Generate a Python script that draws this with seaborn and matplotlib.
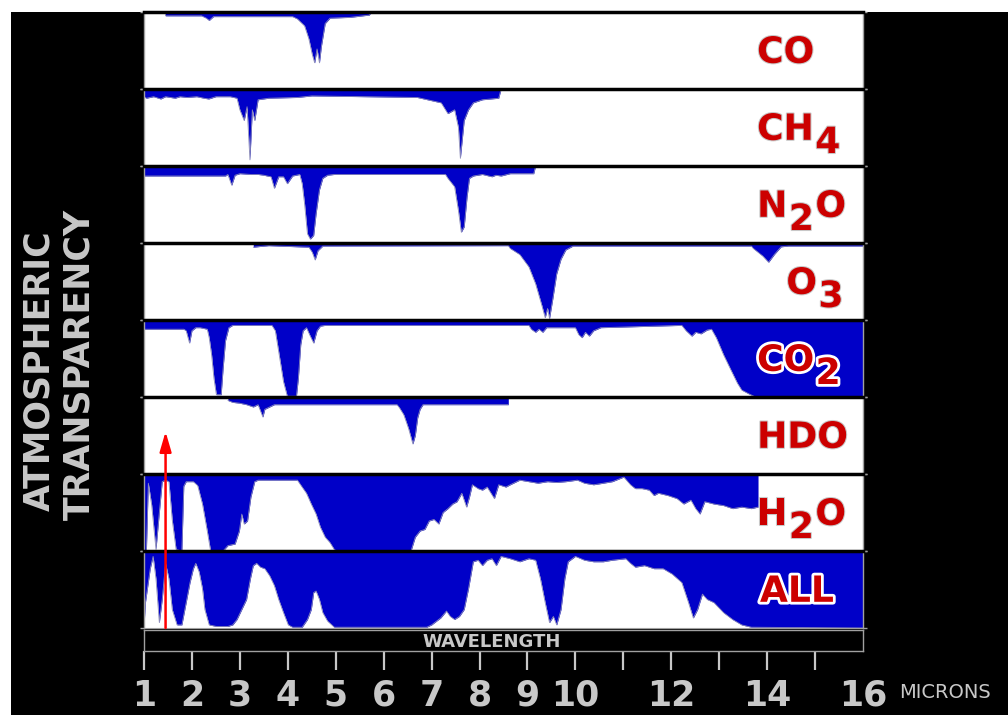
import matplotlib
matplotlib.use("Agg")
import matplotlib.pyplot as plt
import matplotlib.patheffects as pe
from matplotlib.patches import Rectangle
import seaborn as sns

sns.set_style("white")
plt.rcParams['font.family'] = ['DejaVu Sans']

# wavelength (microns) / transmission
co_wl = [1.44, 1.45, 2.20, 2.30, 2.36, 2.45, 4.10, 4.20, 4.35, 4.44, 4.51, 4.56, 4.61, 4.66, 4.70, 4.78, 4.88, 5.30, 5.70, 5.74]
co_tr = [1.00, 0.95, 0.95, 0.92, 0.89, 0.94, 0.94, 0.91, 0.82, 0.65, 0.45, 0.34, 0.52, 0.34, 0.55, 0.85, 0.92, 0.93, 0.96, 1.00]

ch4_wl = [1.00, 1.05, 1.20, 1.35, 1.45, 1.65, 1.75, 1.90, 2.10, 2.25, 2.35, 2.50, 2.80, 2.94, 3.00, 3.09, 3.15, 3.21, 3.26, 3.31, 3.38,
          3.60, 4.20, 4.50, 6.70, 7.20, 7.34, 7.48, 7.56, 7.60, 7.68, 7.77, 7.87, 8.06, 8.40, 8.45]
ch4_tr = [0.90, 0.88, 0.90, 0.87, 0.90, 0.88, 0.90, 0.89, 0.90, 0.88, 0.87, 0.90, 0.90, 0.88, 0.73, 0.59, 0.77, 0.08, 0.73, 0.59, 0.86,
          0.88, 0.89, 0.91, 0.89, 0.82, 0.68, 0.73, 0.50, 0.10, 0.59, 0.73, 0.82, 0.86, 0.88, 1.00]

n2o_wl = [1.00, 2.70, 2.75, 2.83, 2.90, 3.00, 3.23, 3.38, 3.50, 3.57, 3.65, 3.72, 3.81, 3.91, 3.99, 4.10, 4.25, 4.30, 4.35, 4.41,
          4.47, 4.54, 4.59, 4.66, 4.73, 4.83, 4.97, 7.29, 7.34, 7.48, 7.56, 7.62, 7.68, 7.74, 7.79, 7.87, 8.06, 8.26, 8.34, 8.45,
          8.64, 9.13, 9.17]
n2o_tr = [0.87, 0.87, 0.89, 0.75, 0.88, 0.90, 0.89, 0.89, 0.88, 0.87, 0.86, 0.71, 0.86, 0.86, 0.77, 0.87, 0.89, 0.77, 0.51, 0.12,
          0.05, 0.10, 0.38, 0.69, 0.84, 0.88, 0.89, 0.89, 0.84, 0.73, 0.42, 0.14, 0.21, 0.60, 0.84, 0.87, 0.89, 0.86, 0.88, 0.87,
          0.90, 0.90, 1.00]

o3_wl = [3.28, 3.43, 3.60, 4.44, 4.51, 4.57, 4.63, 4.73, 8.60, 8.64, 8.84, 9.03, 9.17, 9.30, 9.37, 9.42, 9.46, 9.53, 9.61, 9.70,
         9.80, 9.95, 13.67, 13.71, 13.91, 14.03, 14.15, 14.29, 14.44, 16.00]
o3_tr = [0.945, 0.955, 0.965, 0.945, 0.88, 0.78, 0.90, 0.96, 0.965, 0.93, 0.85, 0.69, 0.47, 0.19, 0.03, 0.15, 0.02, 0.28, 0.60, 0.79,
         0.91, 0.96, 0.96, 0.93, 0.83, 0.75, 0.85, 0.95, 0.96, 0.96]

co2_wl = [1.00, 1.83, 1.88, 1.95, 2.00, 2.08, 2.17, 2.32, 2.36, 2.41, 2.46, 2.51, 2.61, 2.65, 2.70, 2.77, 2.85, 3.67, 3.74, 3.81,
          3.91, 3.99, 4.18, 4.22, 4.27, 4.32, 4.39, 4.47, 4.54, 4.61, 4.68, 4.78, 9.03, 9.08, 9.17, 9.24, 9.32, 9.40, 10.00, 10.07,
          10.14, 10.21, 10.29, 10.38, 10.53, 12.22, 12.31, 12.43, 12.51, 12.62, 12.75, 12.84, 12.94, 13.09, 13.23, 13.38, 13.47,
          13.62, 13.76, 16.00]
co2_tr = [0.88, 0.88, 0.86, 0.70, 0.86, 0.90, 0.90, 0.88, 0.77, 0.55, 0.24, 0.03, 0.03, 0.37, 0.73, 0.90, 0.93, 0.93, 0.86, 0.59,
          0.20, 0.01, 0.01, 0.24, 0.68, 0.86, 0.90, 0.79, 0.70, 0.86, 0.92, 0.93, 0.93, 0.88, 0.84, 0.88, 0.84, 0.90, 0.90, 0.81,
          0.77, 0.84, 0.79, 0.86, 0.90, 0.93, 0.86, 0.79, 0.84, 0.82, 0.87, 0.88, 0.77, 0.55, 0.37, 0.18, 0.09,
          0.04, 0.00, 0.00]

hdo_wl = [2.75, 2.85, 2.99, 3.14, 3.28, 3.38, 3.48, 3.52, 3.62, 3.72, 6.28, 6.33, 6.42, 6.52, 6.61, 6.66, 6.71, 6.76, 6.82, 8.60]
hdo_tr = [0.955, 0.93, 0.92, 0.90, 0.87, 0.90, 0.74, 0.84, 0.87, 0.90, 0.90, 0.86, 0.77, 0.59, 0.39, 0.50, 0.73, 0.84, 0.90, 0.90]

h2o_wl = [1.00, 1.05, 1.09, 1.16, 1.25, 1.32, 1.38, 1.45, 1.52, 1.59, 1.67, 1.79, 1.83, 1.88, 2.03, 2.12, 2.22, 2.32, 2.39, 2.65,
          2.75, 2.90, 2.99, 3.04, 3.09, 3.16, 3.23, 3.31, 3.38, 4.20, 4.30, 4.39, 4.49, 4.59, 4.68, 4.78, 4.88, 4.97, 5.02, 6.57,
          6.66, 6.76, 6.86, 6.95, 7.05, 7.15, 7.24, 7.34, 7.44, 7.53, 7.63, 7.73, 7.79, 7.85, 7.97, 8.06, 8.16, 8.31, 8.40, 8.55,
          8.64, 8.84, 9.03, 9.22, 9.42, 9.61, 9.80, 10.04, 10.19, 10.38, 10.58, 10.77, 11.01, 11.15, 11.25, 11.39, 11.54, 11.64,
          11.73, 11.93, 12.12, 12.26, 12.41, 12.51, 12.60, 12.70, 12.89, 13.09, 13.28, 13.47, 13.67, 13.81]
h2o_tr = [0.00, 0.00, 0.88, 0.60, 0.02, 0.50, 0.90, 0.92, 0.90, 0.40, 0.02, 0.00, 0.84, 0.90, 0.90, 0.85, 0.61, 0.26, 0.00, 0.00,
          0.07, 0.09, 0.26, 0.48, 0.35, 0.39, 0.70, 0.90, 0.92, 0.92, 0.83, 0.75, 0.61, 0.48, 0.31, 0.18, 0.11, 0.02, 0.00, 0.00,
          0.18, 0.26, 0.28, 0.39, 0.41, 0.35, 0.50, 0.55, 0.61, 0.64, 0.75, 0.57, 0.70, 0.86, 0.81, 0.79, 0.83, 0.68, 0.86, 0.83,
          0.86, 0.92, 0.90, 0.88, 0.90, 0.89, 0.90, 0.92, 0.88, 0.86, 0.88, 0.90, 0.96, 0.86, 0.81, 0.81, 0.79, 0.72,
          0.75, 0.72, 0.68, 0.61, 0.66, 0.55, 0.48, 0.64, 0.61, 0.59, 0.55, 0.57, 0.55, 0.57]

all_wl = [1.00, 1.03, 1.13, 1.19, 1.25, 1.32, 1.38, 1.45, 1.52, 1.59, 1.69, 1.79, 1.88, 1.96, 2.03, 2.08, 2.15, 2.22, 2.27, 2.36,
          2.51, 2.75, 2.85, 2.94, 3.04, 3.14, 3.22, 3.28, 3.35, 3.43, 3.52, 3.62, 3.72, 3.81, 3.91, 4.01, 4.10, 4.30, 4.41, 4.49,
          4.54, 4.59, 4.66, 4.73, 4.83, 4.97, 5.94, 6.90, 7.00, 7.19, 7.31, 7.39, 7.48, 7.58, 7.68, 7.77, 7.87, 7.97, 8.06, 8.16,
          8.26, 8.35, 8.45, 8.64, 8.84, 9.03, 9.17, 9.27, 9.37, 9.46, 9.54, 9.61, 9.70, 9.78, 9.85, 10.00, 10.19, 10.38, 10.58,
          10.77, 11.05, 11.15, 11.25, 11.44, 11.64, 11.83, 12.02, 12.22, 12.36, 12.46, 12.55, 12.65, 12.75, 12.89, 13.09, 13.28,
          13.47, 13.67, 16.00]
all_tr = [0.02, 0.33, 0.77, 0.93, 0.64, 0.07, 0.37, 0.84, 0.64, 0.24, 0.04, 0.04, 0.33, 0.59, 0.77, 0.84, 0.73, 0.51, 0.24, 0.04,
          0.02, 0.02, 0.04, 0.11, 0.24, 0.37, 0.64, 0.81, 0.84, 0.79, 0.77, 0.68, 0.55, 0.37, 0.20, 0.04, 0.01, 0.01, 0.11, 0.24,
          0.46, 0.48, 0.37, 0.20, 0.09, 0.01, 0.01, 0.01, 0.04, 0.13, 0.22, 0.15, 0.11, 0.15, 0.24, 0.51, 0.86, 0.88, 0.81, 0.88,
          0.90, 0.81, 0.93, 0.90, 0.86, 0.90, 0.88, 0.64, 0.33, 0.07, 0.15, 0.04, 0.24, 0.64, 0.86, 0.93, 0.88, 0.86, 0.86,
          0.88, 0.90, 0.84, 0.79, 0.81, 0.77, 0.77, 0.70, 0.59, 0.33, 0.13, 0.24, 0.44, 0.37, 0.33, 0.20, 0.11,
          0.04, 0.01, 0.00]

panel_data = [(co_wl, co_tr), (ch4_wl, ch4_tr), (n2o_wl, n2o_tr), (o3_wl, o3_tr),
              (co2_wl, co2_tr), (hdo_wl, hdo_tr), (h2o_wl, h2o_tr), (all_wl, all_tr)]

# panel names: (text, lowered?) pieces
panel_labels = [[("CO", 0)], [("CH", 0), ("4", 1)], [("N", 0), ("2", 1), ("O", 0)], [("O", 0), ("3", 1)],
                [("CO", 0), ("2", 1)], [("HDO", 0)], [("H", 0), ("2", 1), ("O", 0)], [("ALL", 0)]]
label_x = [13.79, 13.79, 13.79, 14.40, 13.79, 13.79, 13.79, 13.85]
on_blue = [False, False, False, False, True, False, False, True]

tick_pos = list(range(1, 17))
tick_text = ["1", "2", "3", "4", "5", "6", "7", "8", "9", "10", "", "12", "", "14", "", "16"]
arrow_wl = 1.45

BLUE = "#0000c8"
RED = "#cc0000"
GREY = "#c8c8c8"

W, H = 1008, 715
fig = plt.figure(figsize=(W / 100, H / 100), dpi=100, facecolor="white")
fig.patches.append(Rectangle((11 / W, 0), 1, (H - 12) / H, transform=fig.transFigure,
                             facecolor="black", edgecolor="none", zorder=-5))

left, width = 144 / W, (863 - 144) / W
ph = 77
axes = []
for i, (wl, tr) in enumerate(panel_data):
    top_px = 12 + ph * i
    ax = fig.add_axes([left, 1 - (top_px + ph) / H, width, ph / H])
    ax.set_facecolor("white")
    ax.fill_between(wl, tr, 1, color=BLUE, linewidth=0)
    sns.lineplot(x=wl, y=tr, ax=ax, color="#8a8ab8", linewidth=0.6, estimator=None, sort=False)
    ax.set_xlim(1, 16)
    ax.set_ylim(0, 1)
    ax.set_xlabel("")
    ax.set_ylabel("")
    ax.set_xticks([])
    ax.set_yticks([0, 1])
    ax.set_yticklabels([])
    ax.tick_params(axis="y", left=True, right=True, length=3, width=1, color="#a0a0a0", direction="out")
    for s in ["left", "right"]:
        ax.spines[s].set_color("#a0a0a0")
        ax.spines[s].set_linewidth(1)
    ax.spines["top"].set_color("black")
    ax.spines["top"].set_linewidth(2.5)
    ax.spines["bottom"].set_visible(i == 7)
    ax.spines["bottom"].set_color("#a0a0a0")

    stroke = [pe.withStroke(linewidth=4, foreground="white")] if on_blue[i] else \
             [pe.withStroke(linewidth=1.5, foreground="#c8c8c8")]
    prev, prev_low = None, 0
    for txt, low in panel_labels[i]:
        if prev is None:
            t = ax.text(label_x[i], 0.47 - 0.17 * low, txt, fontsize=26, fontweight="bold", color=RED,
                        ha="left", va="center", path_effects=stroke)
        else:
            t = ax.annotate(txt, xy=(1, 0.5), xycoords=prev, xytext=(1, -9.5 * (low - prev_low)),
                            textcoords="offset points", fontsize=26, fontweight="bold", color=RED,
                            ha="left", va="center", path_effects=stroke)
        prev, prev_low = t, low
    axes.append(ax)

# red arrow through the lower panels
axes[-1].annotate("", xy=(arrow_wl, 2.55), xytext=(arrow_wl, 0.0), annotation_clip=False,
                  arrowprops=dict(arrowstyle="-|>,head_width=0.35,head_length=1.2", color="red",
                                  lw=1.8, shrinkA=0, shrinkB=0))

# wavelength strip with the axis ticks
strip = fig.add_axes([left, (H - 651) / H, width, 21 / H])
strip.set_facecolor("black")
strip.set_xlim(1, 16)
strip.set_yticks([])
for s in strip.spines.values():
    s.set_color("#a0a0a0")
    s.set_linewidth(1)
strip.set_xticks(tick_pos)
strip.set_xticklabels(tick_text, fontsize=25, fontweight="bold", color=GREY)
strip.tick_params(axis="x", bottom=True, length=14, width=1.6, color=GREY, pad=6, direction="out")
strip.xaxis.get_major_ticks()[-1].tick1line.set_visible(False)
strip.text(0.483, 0.45, "WAVELENGTH", transform=strip.transAxes, fontsize=13, fontweight="bold",
           color=GREY, ha="center", va="center")

fig.text(945 / W, 1 - 693 / H, "MICRONS", fontsize=14, color=GREY, ha="center", va="center")
fig.text(39 / W, 1 - 371 / H, "ATMOSPHERIC", fontsize=25, fontweight="bold", color=GREY,
         rotation=90, ha="center", va="center")
fig.text(79 / W, 1 - 364 / H, "TRANSPARENCY", fontsize=25, fontweight="bold", color=GREY,
         rotation=90, ha="center", va="center")

fig.savefig("out.png", dpi=100, facecolor=fig.get_facecolor())
